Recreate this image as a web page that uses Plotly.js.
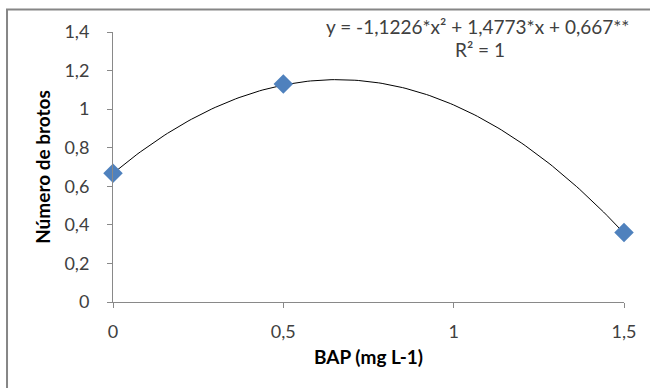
<!DOCTYPE html>
<html>
<head>
<meta charset="utf-8">
<script src="https://cdn.plot.ly/plotly-3.0.1.min.js"></script>
<style>html,body{margin:0;padding:0;background:#fff;}#chart{width:650px;height:388px;}</style>
</head>
<body>
<div id="chart"></div>
<script>
// Data
const bapDoses = [0, 0.5, 1.5];
const numeroBrotos = [0.667, 1.13, 0.36];
// Trendline coefficients printed on the chart (a*x^2 + b*x + c)
const trendCoefs = [-1.1226, 1.4773, 0.667];
const xTickVals = [0, 0.5, 1, 1.5];
const xTickText = ['0', '0,5', '1', '1,5'];
const yTickVals = [0, 0.2, 0.4, 0.6, 0.8, 1, 1.2, 1.4];
const yTickText = ['0', '0,2', '0,4', '0,6', '0,8', '1', '1,2', '1,4'];
const equationText = 'y = -1,1226*x² + 1,4773*x + 0,667**';
const r2Text = 'R² = 1';

// Trendline curve evaluated over the data range
const trendX = [];
const trendY = [];
const xmin = Math.min(...bapDoses), xmax = Math.max(...bapDoses);
for (let i = 0; i <= 150; i++) {
  const x = xmin + (xmax - xmin) * i / 150;
  trendX.push(x);
  trendY.push(trendCoefs[0] * x * x + trendCoefs[1] * x + trendCoefs[2]);
}

const font = 'Lato, "Open Sans", "DejaVu Sans", sans-serif';
const axisColor = '#898989';
const textColor = '#404040';

const traces = [
  {
    x: trendX, y: trendY, mode: 'lines', type: 'scatter',
    line: {color: '#000000', width: 1}, hoverinfo: 'skip', showlegend: false,
    cliponaxis: false
  },
  {
    x: bapDoses, y: numeroBrotos, mode: 'markers', type: 'scatter',
    marker: {symbol: 'diamond', size: 15, color: '#4F81BD', line: {width: 0}},
    showlegend: false, cliponaxis: false
  }
];

const layout = {
  width: 650, height: 388,
  margin: {l: 113, r: 26, t: 32, b: 86},
  paper_bgcolor: '#ffffff', plot_bgcolor: '#ffffff',
  font: {family: font, color: textColor, size: 18},
  xaxis: {
    range: [0, 1.5], tickvals: xTickVals, ticktext: xTickText,
    showgrid: false, zeroline: false, showline: true, linecolor: axisColor, linewidth: 1,
    ticks: 'outside', ticklen: 5, tickcolor: axisColor, tickwidth: 1,
    ticklabelstandoff: 8,
    tickfont: {family: font, size: 18, color: textColor},
    title: {text: '<b>BAP (mg L-1)</b>', font: {family: font, size: 19, color: '#000'}, standoff: 10}
  },
  yaxis: {
    range: [0, 1.4], tickvals: yTickVals, ticktext: yTickText,
    showgrid: false, zeroline: false, showline: true, linecolor: axisColor, linewidth: 1,
    ticks: 'outside', ticklen: 5, tickcolor: axisColor, tickwidth: 1,
    ticklabelstandoff: 14,
    tickfont: {family: font, size: 18, color: textColor},
    title: {text: '<b>Número de brotos</b>', font: {family: font, size: 19, color: '#000'}, standoff: 8}
  },
  shapes: [
    {type: 'rect', xref: 'paper', yref: 'paper',
     x0: -0.2074, x1: 1.2, y0: -0.5, y1: 1.0835,
     line: {color: '#868686', width: 2}, fillcolor: 'rgba(0,0,0,0)', layer: 'below'}
  ],
  annotations: [
    {text: equationText, xref: 'paper', yref: 'paper', x: 0.713, y: 1.02,
     xanchor: 'center', yanchor: 'middle', showarrow: false,
     font: {family: font, size: 19, color: textColor}},
    {text: r2Text, xref: 'paper', yref: 'paper', x: 0.718, y: 0.935,
     xanchor: 'center', yanchor: 'middle', showarrow: false,
     font: {family: font, size: 19, color: textColor}}
  ]
};

Plotly.newPlot('chart', traces, layout, {displayModeBar: false, staticPlot: true});
</script>
</body>
</html>
